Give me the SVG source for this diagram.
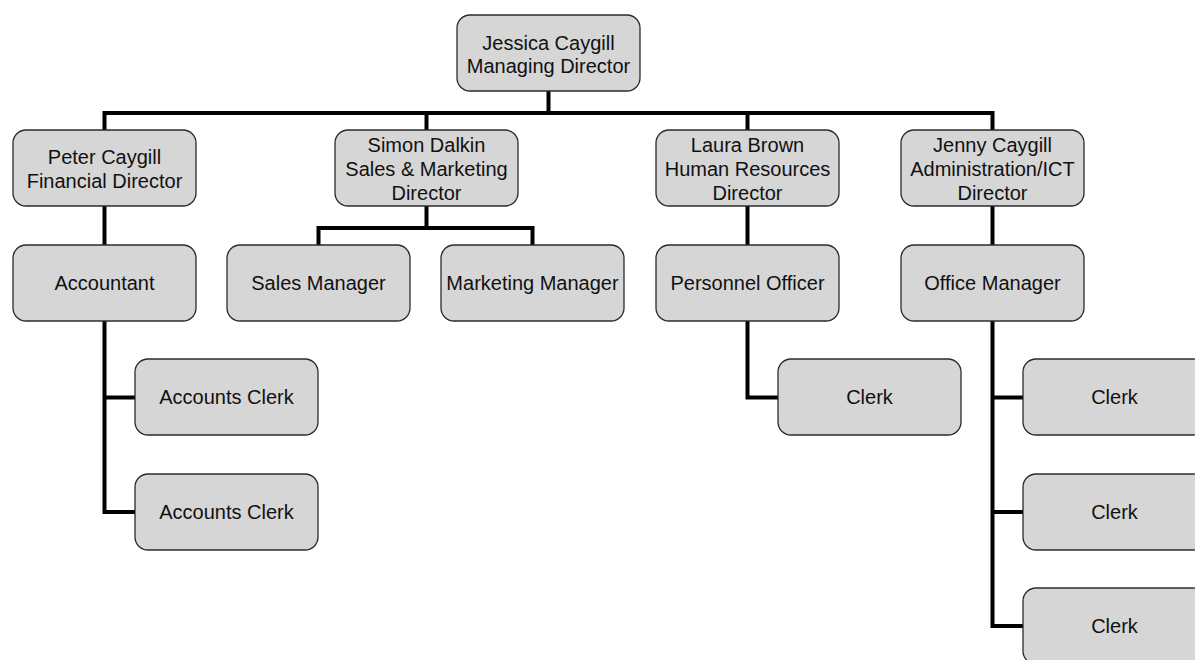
<svg xmlns="http://www.w3.org/2000/svg" width="1195" height="660" viewBox="0 0 1195 660">
<style>
.box{fill:#d6d6d6;stroke:#2b2b2b;stroke-width:1.3}
.t{font-family:"Liberation Sans",Arial,sans-serif;font-size:20px;fill:#111;text-anchor:middle}
.c{fill:none;stroke:#000;stroke-width:4;stroke-linejoin:miter;stroke-linecap:butt}
</style>
<rect width="1195" height="660" fill="#fff"/>
<g id="connectors" class="c">
<path d="M548.5 91 V113"/>
<path d="M104.5 130 V113 H992.5 V130"/>
<path d="M426.5 113 V130"/>
<path d="M747.5 113 V130"/>
<path d="M104.5 206 V245"/>
<path d="M426.5 206 V228"/>
<path d="M318.5 245 V228 H532.5 V245"/>
<path d="M747.5 206 V245"/>
<path d="M992.5 206 V245"/>
<path d="M104.5 321 V512 H135"/>
<path d="M104.5 397.5 H135"/>
<path d="M747.5 321 V397.5 H778"/>
<path d="M992.5 321 V626 H1023"/>
<path d="M992.5 397.5 H1023"/>
<path d="M992.5 512 H1023"/>
</g>
<g id="jessica"><rect class="box" x="457" y="15" width="183" height="76" rx="13"/><text class="t" x="548.5" y="50">Jessica Caygill</text><text class="t" x="548.5" y="73">Managing Director</text></g>
<g id="peter"><rect class="box" x="13" y="130" width="183" height="76" rx="13"/><text class="t" x="104.5" y="163.5">Peter Caygill</text><text class="t" x="104.5" y="187.5">Financial Director</text></g>
<g id="simon"><rect class="box" x="335" y="130" width="183" height="76" rx="13"/><text class="t" x="426.5" y="151.5">Simon Dalkin</text><text class="t" x="426.5" y="175.5">Sales &amp; Marketing</text><text class="t" x="426.5" y="199.5">Director</text></g>
<g id="laura"><rect class="box" x="656" y="130" width="183" height="76" rx="13"/><text class="t" x="747.5" y="151.5">Laura Brown</text><text class="t" x="747.5" y="175.5">Human Resources</text><text class="t" x="747.5" y="199.5">Director</text></g>
<g id="jenny"><rect class="box" x="901" y="130" width="183" height="76" rx="13"/><text class="t" x="992.5" y="151.5">Jenny Caygill</text><text class="t" x="992.5" y="175.5">Administration/ICT</text><text class="t" x="992.5" y="199.5">Director</text></g>
<g id="accountant"><rect class="box" x="13" y="245" width="183" height="76" rx="13"/><text class="t" x="104.5" y="290">Accountant</text></g>
<g id="sales-manager"><rect class="box" x="227" y="245" width="183" height="76" rx="13"/><text class="t" x="318.5" y="290">Sales Manager</text></g>
<g id="marketing-manager"><rect class="box" x="441" y="245" width="183" height="76" rx="13"/><text class="t" x="532.5" y="290">Marketing Manager</text></g>
<g id="personnel-officer"><rect class="box" x="656" y="245" width="183" height="76" rx="13"/><text class="t" x="747.5" y="290">Personnel Officer</text></g>
<g id="office-manager"><rect class="box" x="901" y="245" width="183" height="76" rx="13"/><text class="t" x="992.5" y="290">Office Manager</text></g>
<g id="accounts-clerk-1"><rect class="box" x="135" y="359" width="183" height="76" rx="13"/><text class="t" x="226.5" y="404">Accounts Clerk</text></g>
<g id="accounts-clerk-2"><rect class="box" x="135" y="474" width="183" height="76" rx="13"/><text class="t" x="226.5" y="519">Accounts Clerk</text></g>
<g id="hr-clerk"><rect class="box" x="778" y="359" width="183" height="76" rx="13"/><text class="t" x="869.5" y="404">Clerk</text></g>
<g id="office-clerk-1"><rect class="box" x="1023" y="359" width="183" height="76" rx="13"/><text class="t" x="1114.5" y="404">Clerk</text></g>
<g id="office-clerk-2"><rect class="box" x="1023" y="474" width="183" height="76" rx="13"/><text class="t" x="1114.5" y="519">Clerk</text></g>
<g id="office-clerk-3"><rect class="box" x="1023" y="588" width="183" height="76" rx="13"/><text class="t" x="1114.5" y="633">Clerk</text></g>
</svg>
